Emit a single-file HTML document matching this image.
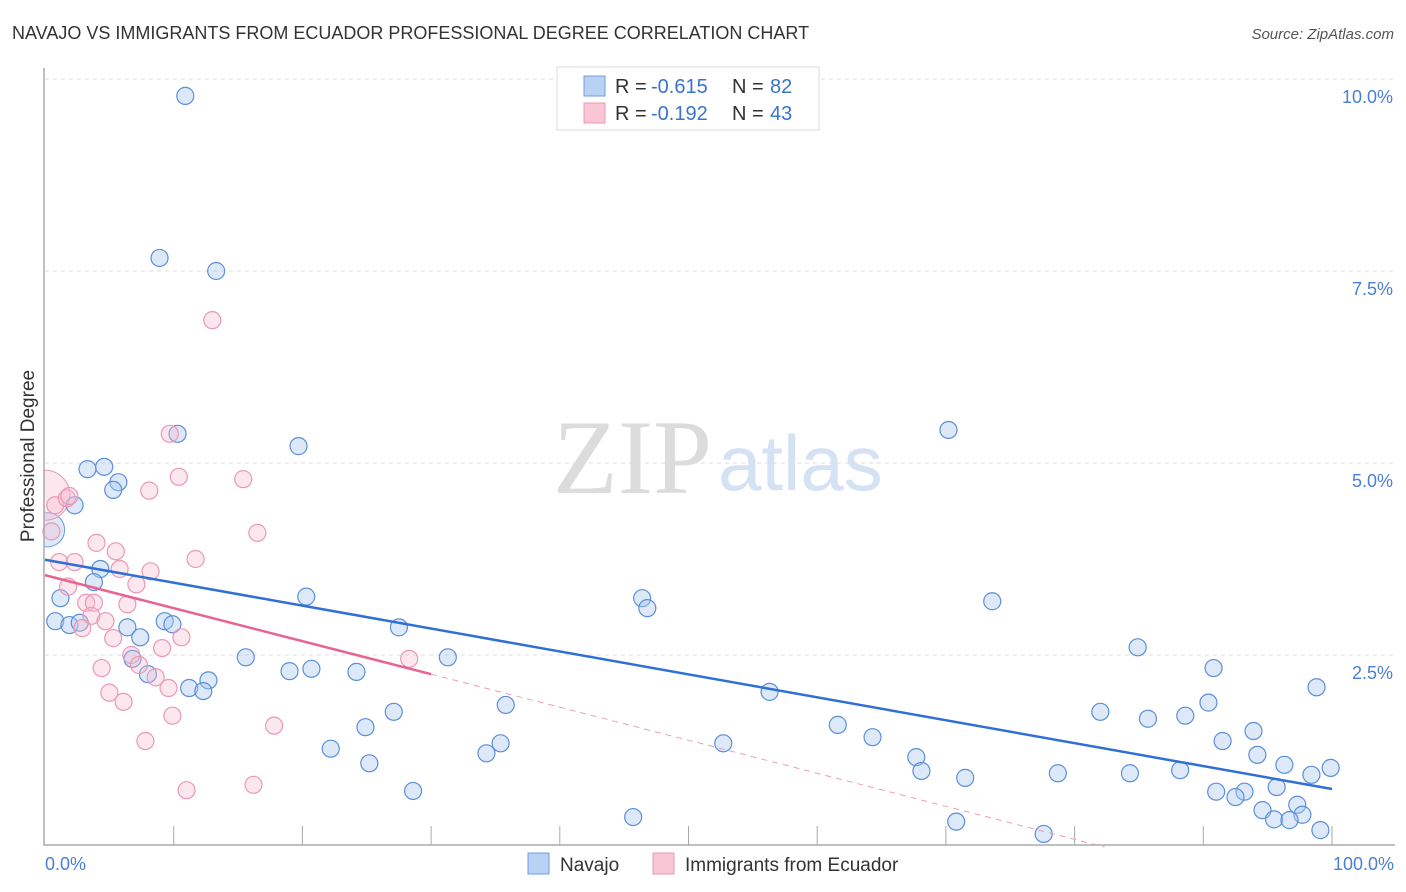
<!DOCTYPE html>
<html><head><meta charset="utf-8"><style>
body{margin:0;background:#fff;font-family:"Liberation Sans",sans-serif;}
#wrap{position:relative;width:1406px;height:892px;overflow:hidden}
</style></head><body><div id="wrap">
<svg id="svg" width="1406" height="892" xmlns="http://www.w3.org/2000/svg">
<text x="12" y="39" font-size="18" fill="#333">NAVAJO VS IMMIGRANTS FROM ECUADOR PROFESSIONAL DEGREE CORRELATION CHART</text>
<text x="1394" y="39" font-size="15" fill="#555" font-style="italic" text-anchor="end">Source: ZipAtlas.com</text>
<text x="553" y="493" font-size="106" fill="#dcdcdc" font-family="Liberation Serif,serif">ZIP</text>
<text x="718" y="490" font-size="78" fill="#d5e2f3">atlas</text>
<text transform="translate(34,456) rotate(-90)" font-size="19" fill="#333" text-anchor="middle">Professional Degree</text>
<g id="grid"></g>
<g id="marks"></g>
<text x="45" y="870" font-size="18" fill="#4a7fd6">0.0%</text>
<text x="1394" y="870" font-size="18" fill="#4a7fd6" text-anchor="end">100.0%</text>
<g>
<rect x="557" y="67" width="262" height="63" fill="#fff" stroke="#ddd"/>
<rect x="584" y="76" width="21" height="20" fill="#b8d2f4" stroke="#6f9de0"/>
<rect x="584" y="103" width="21" height="20" fill="#f9c6d5" stroke="#ec98b3"/>
<g font-size="20" fill="#333">
<text x="615" y="93">R =</text><text x="651" y="93" fill="#3a73d0">-0.615</text><text x="732" y="93">N =</text><text x="770" y="93" fill="#3a73d0">82</text>
<text x="615" y="120">R =</text><text x="651" y="120" fill="#3a73d0">-0.192</text><text x="732" y="120">N =</text><text x="770" y="120" fill="#3a73d0">43</text>
</g>
</g>
<g>
<rect x="528" y="853" width="21" height="21" fill="#b8d2f4" stroke="#6f9de0"/>
<text x="560" y="871" font-size="19" fill="#333">Navajo</text>
<rect x="653" y="853" width="21" height="21" fill="#f9c6d5" stroke="#ec98b3"/>
<text x="685" y="871" font-size="19" fill="#333">Immigrants from Ecuador</text>
</g>
</svg></div>
<script>
const yTicks=[2.5,5,7.5,10];
const yTickLabels=["2.5%","5.0%","7.5%","10.0%"];
const navX=[10.9,8.9,13.3,10.3,19.7,70.2,3.3,4.6,5.7,5.3,2.3,4.3,3.8,1.2,20.3,46.4,46.8,73.6,0.8,1.9,2.7,6.4,9.3,9.9,7.4,27.5,6.8,8.0,15.6,31.3,84.9,90.8,12.7,11.2,12.3,19.0,20.7,24.2,98.8,56.3,90.4,35.8,27.1,82.0,24.9,85.7,88.6,61.6,64.3,93.9,91.5,52.7,22.2,35.4,34.3,67.7,94.2,96.3,25.2,68.1,78.7,84.3,88.2,99.9,98.4,71.5,95.7,28.6,91.0,93.2,92.5,97.3,94.6,97.7,45.7,95.5,96.7,70.8,77.6,99.1];
const navY=[9.78,7.67,7.50,5.38,5.22,5.43,4.92,4.95,4.75,4.65,4.45,3.62,3.45,3.24,3.26,3.24,3.11,3.20,2.94,2.89,2.92,2.86,2.94,2.90,2.73,2.86,2.45,2.25,2.47,2.47,2.60,2.33,2.17,2.07,2.03,2.29,2.32,2.28,2.08,2.02,1.88,1.85,1.76,1.76,1.56,1.67,1.71,1.59,1.43,1.51,1.38,1.35,1.28,1.35,1.22,1.17,1.20,1.07,1.09,0.99,0.96,0.96,1.00,1.03,0.94,0.90,0.78,0.73,0.72,0.72,0.65,0.55,0.48,0.42,0.39,0.36,0.35,0.33,0.17,0.22];
const ecuX=[0.8,1.7,1.9,0.5,8.1,10.4,15.4,13.0,9.7,1.1,4.0,5.5,16.5,2.3,5.8,8.2,11.7,1.8,7.1,3.2,3.8,6.4,3.6,4.7,2.9,10.6,5.3,9.1,6.7,7.3,4.4,8.6,9.6,5.0,6.1,9.9,17.8,7.8,28.3,11.0,16.2];
const ecuY=[4.45,4.54,4.57,4.11,4.64,4.82,4.79,6.86,5.38,3.71,3.96,3.85,4.09,3.71,3.62,3.59,3.75,3.39,3.42,3.18,3.18,3.16,3.01,2.94,2.85,2.73,2.72,2.59,2.50,2.37,2.33,2.21,2.07,2.01,1.89,1.71,1.58,1.38,2.45,0.74,0.81];
const navTrend=[3.74,0.755];
const ecuTrend=[3.54,-0.76];
const X=v=>45+v*12.87, Y=v=>847-v*76.8;
const NS="http://www.w3.org/2000/svg";
function mk(t,a,p){const e=document.createElementNS(NS,t);for(const k in a)e.setAttribute(k,a[k]);p.appendChild(e);return e;}
function clipCircle(cx,cy,r,xmin){
 const dx=xmin-cx, h=Math.sqrt(r*r-dx*dx);
 return `M${xmin},${cy-h} A${r},${r} 0 1 1 ${xmin},${cy+h} Z`;
}
const grid=document.getElementById('grid'), marks=document.getElementById('marks'), svg=document.getElementById('svg');
yTicks.forEach((t,i)=>{
 const l=mk('line',{x1:45,x2:1395,y1:Y(t),y2:Y(t),stroke:'#ddd','stroke-dasharray':'4,4'},grid);
 
 
 const tx=mk('text',{x:1393,y:Y(t)+24,'font-size':18,fill:'#4a7fd6','text-anchor':'end'},svg);
 tx.textContent=yTickLabels[i];
 
 
});
for(let i=1;i<=10;i++){const tk=mk('line',{x1:X(i*10),x2:X(i*10),y1:826,y2:845,stroke:'#aaa'},grid);
 
 }
const bn=mk('path',{d:clipCircle(X(0.2),Y(4.13),17,44),fill:'rgba(170,200,240,0.4)',stroke:'#6f9de0'},marks);


const be=mk('path',{d:clipCircle(X(0),Y(4.58),25,44),fill:'rgba(245,185,205,0.35)',stroke:'#ec98b3'},marks);


navX.forEach((x,i)=>{const c=mk('circle',{cx:X(x),cy:Y(navY[i]),r:8.5,fill:'rgba(170,200,240,0.4)',stroke:'#5b8fd9','stroke-width':1.2},marks);
 
 });
ecuX.forEach((x,i)=>{const c=mk('circle',{cx:X(x),cy:Y(ecuY[i]),r:8.5,fill:'rgba(245,185,205,0.35)',stroke:'#ec98b3','stroke-width':1.2},marks);
 
 });
const nl=mk('line',{x1:X(0),y1:Y(navTrend[0]),x2:X(100),y2:Y(navTrend[1]),stroke:'#2f6fd6','stroke-width':2.5},marks);


const ey=x=>ecuTrend[0]+(ecuTrend[1]-ecuTrend[0])*x/100;
const el1=mk('line',{x1:X(0),y1:Y(ey(0)),x2:X(30),y2:Y(ey(30)),stroke:'#e8648f','stroke-width':2.5},marks);


const xe=Math.min(100,-ecuTrend[0]/(ecuTrend[1]-ecuTrend[0])*100);
const el2=mk('line',{x1:X(30),y1:Y(ey(30)),x2:X(xe),y2:Y(ey(xe)),stroke:'#e8a0b8','stroke-width':1,'stroke-dasharray':'6,5'},marks);


const ax=mk('path',{d:'M44,68 V845 H1395',fill:'none',stroke:'#aaa','stroke-width':1.5},svg);


</script></body></html>
